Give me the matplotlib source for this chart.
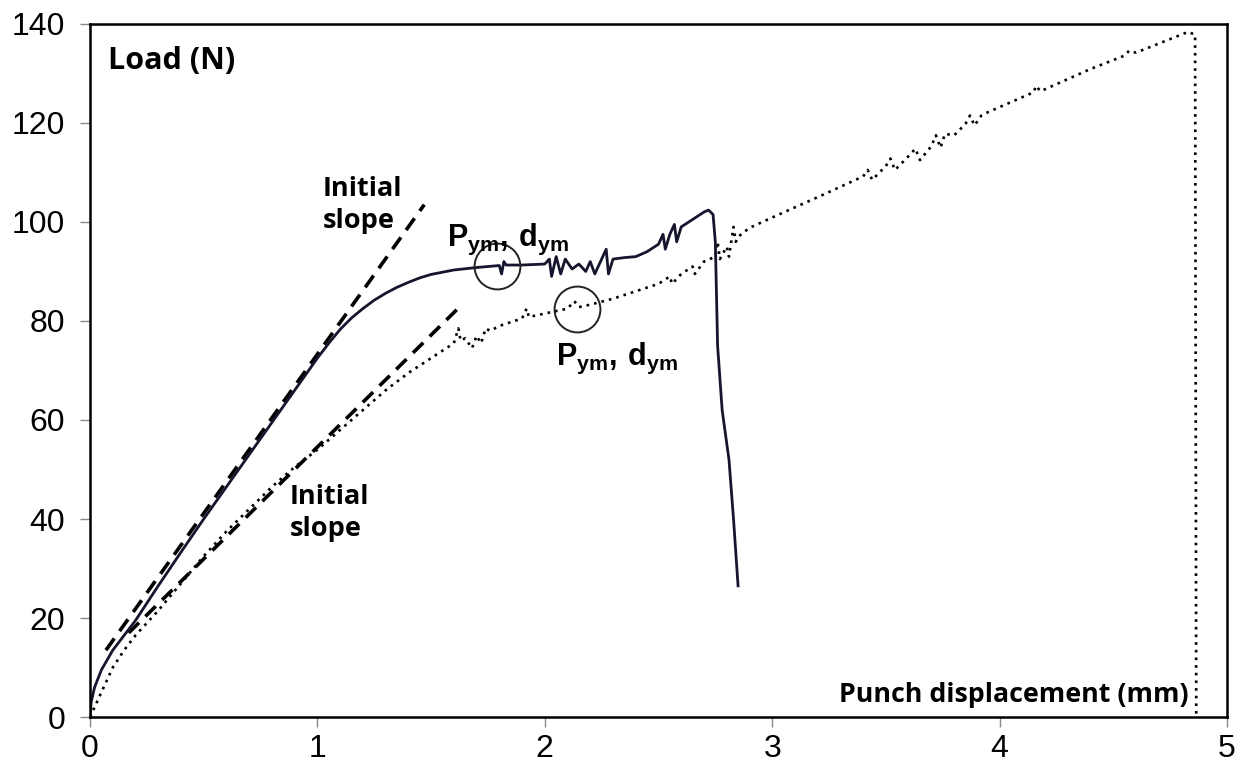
import matplotlib
matplotlib.use("Agg")
import matplotlib.pyplot as plt

plt.rcParams['mathtext.fontset'] = 'custom'
plt.rcParams['mathtext.rm'] = 'Liberation Sans'
plt.rcParams['mathtext.bf'] = 'Liberation Sans:bold'

# Solid curve (specimen A)
solid_x = [0, 0.005, 0.02, 0.05, 0.1, 0.15, 0.2, 0.3, 0.4, 0.5, 0.6, 0.7, 0.8, 0.9, 1.0,
           1.05, 1.1, 1.15, 1.2, 1.25, 1.3, 1.35, 1.4, 1.45, 1.5, 1.6, 1.7, 1.8, 1.81,
           1.82, 1.83, 1.9, 2.0,
           2.02, 2.03, 2.05, 2.07, 2.09, 2.12, 2.15, 2.18, 2.2, 2.22, 2.24, 2.27, 2.28,
           2.3, 2.35, 2.4, 2.45, 2.5, 2.52, 2.53, 2.55, 2.57, 2.58, 2.6, 2.65, 2.7,
           2.72, 2.74, 2.75, 2.76, 2.78, 2.81, 2.83, 2.85]
solid_y = [0, 3, 6, 9.5, 13.5, 16.5, 19.5, 26.5, 33.3, 40, 46.5, 53, 59.5, 66, 72.5,
           75.5, 78.3, 80.6, 82.5, 84.2, 85.6, 86.8, 87.8, 88.7, 89.4, 90.3, 90.8, 91.2,
           89.5, 92, 91.3, 91.3, 91.5,
           92.5, 89, 93, 89.5, 92.5, 90.5, 91.5, 90, 92, 89.5, 91.5, 94.5, 89.5,
           92.5, 92.8, 93, 94, 95.5, 97.5, 94.5, 97.5, 99.5, 96, 99, 100.5, 102,
           102.4, 101.5, 96, 75, 62, 52, 40, 26.5]

# Dotted curve (specimen B)
dot_x = [0, 0.02, 0.05, 0.1, 0.15, 0.2, 0.3, 0.4, 0.5, 0.6, 0.7, 0.8, 0.9, 1.0, 1.1,
         1.2, 1.3, 1.4, 1.5, 1.55, 1.6, 1.62, 1.63, 1.65, 1.68, 1.7, 1.72, 1.74, 1.76,
         1.8, 1.9, 1.92, 1.93, 2.0, 2.1, 2.13, 2.15, 2.2, 2.3, 2.4, 2.5, 2.55, 2.56,
         2.6, 2.65, 2.66, 2.7, 2.75, 2.76, 2.77, 2.8, 2.81, 2.83, 2.84, 2.85, 2.9, 3.0,
         3.2, 3.4, 3.42, 3.44, 3.5, 3.52, 3.54, 3.6, 3.63, 3.65, 3.7, 3.72, 3.74, 3.76,
         3.8, 3.85, 3.87, 3.89, 3.92, 3.95, 4.0, 4.15, 4.16, 4.18, 4.4, 4.55, 4.57,
         4.6, 4.83, 4.86, 4.865]
dot_y = [0, 2, 5, 10, 13.5, 16.5, 21.5, 27, 32.5, 37.5, 42, 46.5, 50.5, 54, 58,
         62, 66, 69.5, 72.5, 74, 75.5, 78.5, 76, 76.5, 74.5, 77, 75.5, 78.5, 78,
         79, 80.5, 82.5, 80.8, 81.5, 82.5, 84, 82.8, 83.3, 84.5, 86, 87.5, 89, 87.5,
         89.5, 91, 89.5, 92, 93, 96, 92.5, 95, 93, 99, 96, 97, 98.8, 100.9,
         105, 109.2, 110.5, 108.5, 111.3, 112.8, 110.5, 113.3, 114.8, 112.5, 115.3, 117.5, 115, 117.8,
         117.5, 119.8, 121.5, 119.5, 121.5, 122.2, 123.2, 126.2, 127.5, 126.4, 130.9, 133.6, 134.6,
         134.2, 138.4, 137.8, 0]

# Initial slope lines (start/end points)
slope1_x = [0.07, 1.47]
slope1_y = [13.5, 103.5]
slope2_x = [0.17, 1.64]
slope2_y = [17.0, 83.5]

# Yield point circles
circle_x = [1.79, 2.14]
circle_y = [91.2, 82.5]

x_ticks = [0, 1, 2, 3, 4, 5]
y_ticks = [0, 20, 40, 60, 80, 100, 120, 140]

fig = plt.figure(figsize=(12.45, 7.72), dpi=100)
ax = fig.add_axes([0.0723, 0.0712, 0.9132, 0.8978])

ax.plot(slope1_x, slope1_y, color='black', lw=2.6, dashes=(4, 2.5))
ax.plot(slope2_x, slope2_y, color='black', lw=2.6, dashes=(4, 2.5))
ax.plot(dot_x, dot_y, color='black', lw=1.9, linestyle=(0, (1, 1.9)))
ax.plot(solid_x, solid_y, color='#15152e', lw=2.0)
ax.plot(circle_x, circle_y, linestyle='none', marker='o', markersize=33,
        markerfacecolor='none', markeredgecolor='#222222', markeredgewidth=1.4)

ax.set_xlim(0, 5)
ax.set_ylim(0, 140)
ax.set_xticks(x_ticks)
ax.set_yticks(y_ticks)
ax.set_xticklabels([str(v) for v in x_ticks], fontsize=23, family='Liberation Sans')
ax.set_yticklabels([str(v) for v in y_ticks], fontsize=23, family='Liberation Sans')
ax.tick_params(direction='out', length=7, width=1, color='#888888',
               top=False, right=False)
ax.tick_params(axis='y', pad=11)
ax.tick_params(axis='x', pad=5)
for s in ax.spines.values():
    s.set_linewidth(1.8)
    s.set_color('black')

lab = dict(family='Open Sans', fontweight='bold', color='black')
ax.text(0.016, 0.968, 'Load (N)', transform=ax.transAxes, fontsize=22,
        ha='left', va='top', **lab)
ax.text(1.025, 103.5, 'Initial\nslope', fontsize=19.5, ha='left', va='center',
        linespacing=1.3, **lab)
ax.text(0.88, 41.2, 'Initial\nslope', fontsize=19.5, ha='left', va='center',
        linespacing=1.3, **lab)
ax.text(4.83, 4.4, 'Punch displacement (mm)', fontsize=19.3, ha='right', va='center', **lab)
ax.text(1.57, 96.5, r'$\mathbf{P_{ym},\,d_{ym}}$', fontsize=22, ha='left', va='center')
ax.text(2.05, 72.5, r'$\mathbf{P_{ym},\,d_{ym}}$', fontsize=22, ha='left', va='center')

fig.savefig('out.png', dpi=100)
